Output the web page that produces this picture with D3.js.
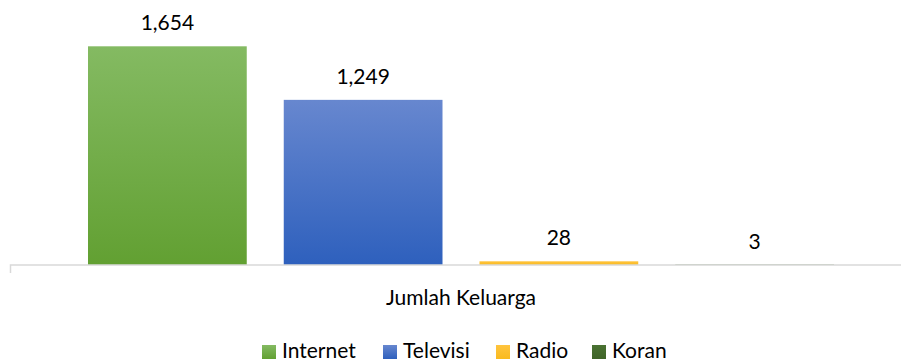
<!DOCTYPE html>
<html>
<head>
<meta charset="utf-8">
<script src="https://cdn.jsdelivr.net/npm/d3@7"></script>
<style>
  html, body { margin: 0; padding: 0; background: #fff; }
  svg { display: block; font-family: Lato, "Noto Sans", sans-serif; }
</style>
</head>
<body>
<svg id="chart" width="901" height="363"></svg>
<script>
// Media usage counts per household group
const categories = ["Jumlah Keluarga"];
const seriesNames = ["Internet", "Televisi", "Radio", "Koran"];
const seriesValues = [1654, 1249, 28, 3];
const seriesTop = ["#84BA62", "#6787CF", "#FFC43E", "#4A7232"];
const seriesBottom = ["#62A032", "#2E60BD", "#F9BA1E", "#3F6428"];

const svg = d3.select("#chart");
const fmt = d3.format(",");
const FONT = 21;

// Bar fills: soft vertical gradients
const defs = svg.append("defs");
seriesNames.forEach((name, i) => {
  const g = defs.append("linearGradient")
    .attr("id", "grad" + i)
    .attr("x1", 0).attr("y1", 0).attr("x2", 0).attr("y2", 1);
  g.append("stop").attr("offset", "0%").attr("stop-color", seriesTop[i]);
  g.append("stop").attr("offset", "100%").attr("stop-color", seriesBottom[i]);
});

const x0 = d3.scaleBand().domain(categories).range([10, 912]).padding(0);
// series positions inside the category band (relative to band start)
const x1 = d3.scaleBand().domain(seriesNames)
  .range([59.5, 842.5]).paddingInner(0.189).paddingOuter(0.0945);
const y = d3.scaleLinear().domain([0, 1800]).range([265, 27]);

const group = svg.selectAll("g.cat")
  .data(categories)
  .join("g")
  .attr("class", "cat")
  .attr("transform", d => `translate(${x0(d)},0)`);

const rows = seriesNames.map((name, i) => ({ name, value: seriesValues[i], i }));

group.selectAll("rect")
  .data(rows)
  .join("rect")
  .attr("x", d => x1(d.name))
  .attr("width", x1.bandwidth())
  .attr("y", d => y(d.value))
  .attr("height", d => y(0) - y(d.value))
  .attr("fill", d => `url(#grad${d.i})`);

// Value labels above bars
group.selectAll("text.val")
  .data(rows)
  .join("text")
  .attr("class", "val")
  .attr("x", d => x1(d.name) + x1.bandwidth() / 2)
  .attr("y", d => y(d.value) - 16)
  .attr("text-anchor", "middle")
  .attr("font-size", FONT)
  .attr("fill", "#000")
  .text(d => fmt(d.value));

// Category axis
const axis = d3.axisBottom(x0).tickSize(0).tickPadding(0);
const axisG = svg.append("g").attr("transform", `translate(0,${y(0)})`).call(axis);
axisG.select(".domain").attr("stroke", "#D9D9D9").attr("stroke-width", 1.5)
  .attr("d", `M10.5,8V0H912`);
axisG.selectAll(".tick text")
  .attr("y", 40)
  .attr("dy", 0)
  .attr("x", 461 - x0(categories[0]) - x0.bandwidth() / 2)
  .attr("font-size", FONT)
  .attr("font-family", "Lato, 'Noto Sans', sans-serif")
  .attr("fill", "#000");

// Legend along the bottom edge
const legendX = [262, 383, 496, 592];
const legend = svg.append("g").attr("transform", "translate(0,358)");
const items = legend.selectAll("g")
  .data(rows)
  .join("g")
  .attr("transform", d => `translate(${legendX[d.i]},0)`);
items.append("rect")
  .attr("x", 0).attr("y", -13).attr("width", 14).attr("height", 14)
  .attr("fill", d => `url(#grad${d.i})`);
items.append("text")
  .attr("x", 20).attr("y", 0)
  .attr("font-size", FONT)
  .attr("fill", "#000")
  .text(d => d.name);
</script>
</body>
</html>
